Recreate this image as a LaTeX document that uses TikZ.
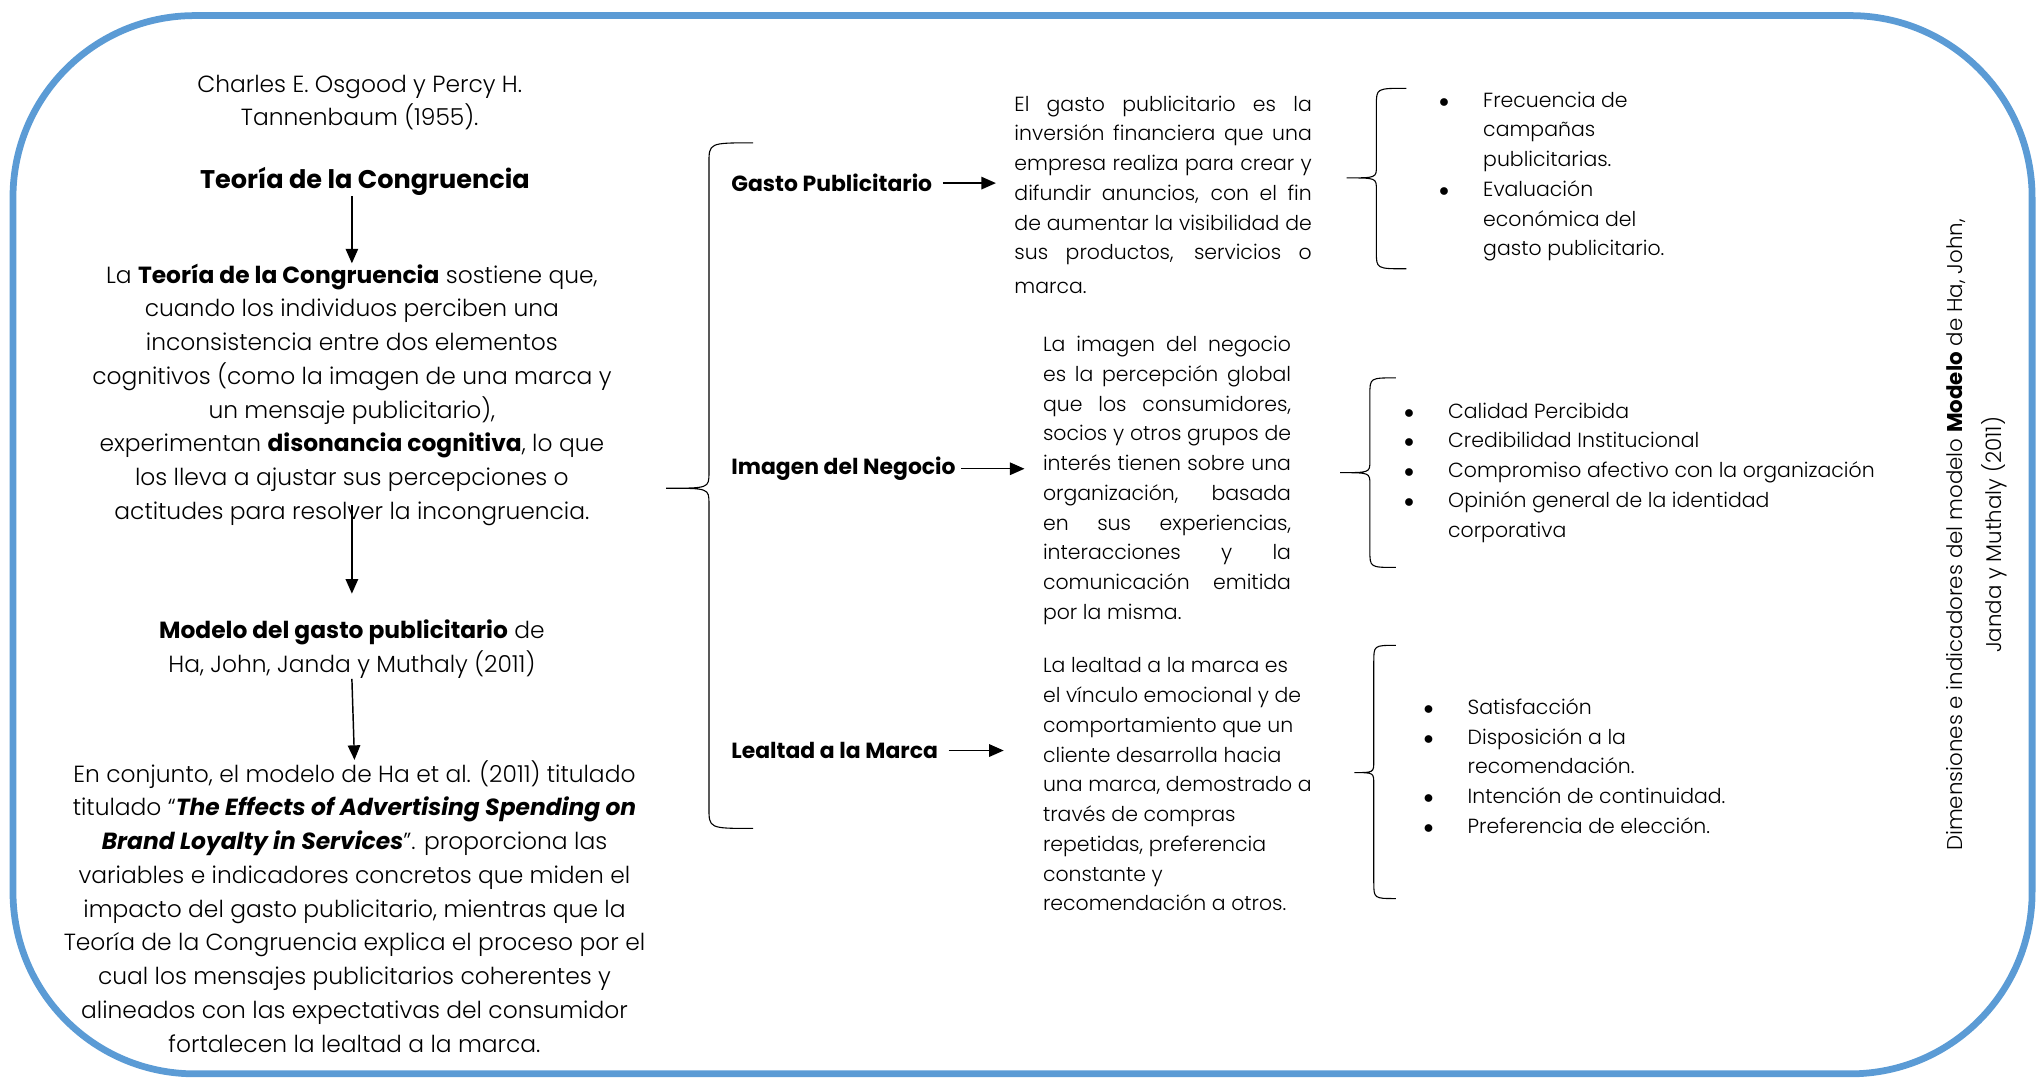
\documentclass[tikz,border=0pt]{standalone}
\usepackage{fontspec}
\IfFontExistsTF{Poppins Light}
  {\setmainfont{Poppins Light}[BoldFont={Poppins Bold},ItalicFont={Poppins Light Italic},BoldItalicFont={Poppins Bold Italic}]}
  {\setmainfont{Poppins}}
\usetikzlibrary{arrows.meta}
\definecolor{marco}{HTML}{5B9BD5}
\newlength{\ancho}
\newcommand{\jl}[1]{\makebox[\ancho][s]{#1}}
\newcommand{\vineta}{\makebox[8.5mm][l]{$\bullet$}}
\newcommand{\sangria}{\hspace*{8.5mm}}

\begin{document}
\begin{tikzpicture}[x=.25mm,y=-.25mm,
  cuerpo/.style={inner sep=0pt,align=center,font=\fontsize{12.8}{18.5}\selectfont},
  dim/.style={inner sep=0pt,anchor=west,font=\fontsize{12}{16}\selectfont\bfseries},
  desc/.style={inner sep=0pt,anchor=west,align=left,font=\fontsize{11.2}{16.3}\selectfont},
  flecha/.style={-{Triangle[length=2.8mm,width=2.4mm]},line width=.8pt},
  llave/.style={line width=.6pt}]
\useasboundingbox (0,0) rectangle (1568,830);
\draw[marco,line width=1.3mm,rounded corners=3.5cm] (10,12) rectangle (1565,827);

% columna izquierda
\node[cuerpo] (autores) at (277,79) {Charles E. Osgood y Percy H.\\Tannenbaum (1955).};
\node[cuerpo,font=\fontsize{14}{18.5}\selectfont\bfseries] (teoria) at (281,140) {Teoría de la Congruencia};
\node[cuerpo] (parrafo) at (271,304) {La \textbf{Teoría de la Congruencia} sostiene que,\\
cuando los individuos perciben una\\
inconsistencia entre dos elementos\\
cognitivos (como la imagen de una marca y\\
un mensaje publicitario),\\
experimentan \textbf{disonancia cognitiva}, lo que\\
los lleva a ajustar sus percepciones o\\
actitudes para resolver la incongruencia.};
\node[cuerpo] (modelo) at (271,500) {\textbf{Modelo del gasto publicitario} de\\Ha, John, Janda y Muthaly (2011)};
\node[cuerpo] (conjunto) at (273,698) {En conjunto, el modelo de Ha et al. (2011) titulado\\
titulado “\textbf{\textit{The Effects of Advertising Spending on}}\\
\textbf{\textit{Brand Loyalty in Services}}”. proporciona las\\
variables e indicadores concretos que miden el\\
impacto del gasto publicitario, mientras que la\\
Teoría de la Congruencia explica el proceso por el\\
cual los mensajes publicitarios coherentes y\\
alineados con las expectativas del consumidor\\
fortalecen la lealtad a la marca.};
\draw[flecha] (teoria.south -| parrafo) -- (parrafo.north);
\draw[flecha] ([yshift=4mm]parrafo.south) -- ([yshift=5mm]modelo.north);
\draw[flecha] (modelo.south) -- (conjunto.north);

% dimensiones
\draw[llave] (580,110) .. controls (546,110) .. (546,126) -- (546,364) .. controls (546,376) .. (513,376)
  .. controls (546,376) .. (546,388) -- (546,622) .. controls (546,638) .. (580,638);
\node[dim] (gasto) at (563,141) {Gasto Publicitario};
\node[dim] (imagen) at (563,361) {Imagen del Negocio};
\node[dim] (lealtad) at (563,578) {Lealtad a la Marca};

\setlength{\ancho}{57.25mm}
\node[desc] (dgasto) at (781,150) {\jl{El gasto publicitario es la}\\
\jl{inversión financiera que una}\\
\jl{empresa realiza para crear y}\\
\jl{difundir anuncios, con el fin}\\
\jl{de aumentar la visibilidad de}\\
\jl{sus productos, servicios o}\\[.8mm]
marca.};
\setlength{\ancho}{47.75mm}
\node[desc] (dimagen) at (803,370) {\jl{La imagen del negocio}\\
\jl{es la percepción global}\\
\jl{que los consumidores,}\\
\jl{socios y otros grupos de}\\
\jl{interés tienen sobre una}\\
\jl{organización, basada}\\
\jl{en sus experiencias,}\\
\jl{interacciones y la}\\
\jl{comunicación emitida}\\
por la misma.};
\node[desc] (dlealtad) at (803,604) {La lealtad a la marca es\\
el vínculo emocional y de\\
comportamiento que un\\
cliente desarrolla hacia\\
una marca, demostrado a\\
través de compras\\
repetidas, preferencia\\
constante y\\
recomendación a otros.};
\draw[flecha,shorten <=2mm,shorten >=3.5mm] (gasto) -- (gasto -| dgasto.west);
\draw[flecha,shorten <=1mm,shorten >=3.5mm] (imagen) -- (imagen -| dimagen.west);
\draw[flecha,shorten <=2mm,shorten >=7.5mm] (lealtad) -- (lealtad -| dlealtad.west);

% indicadores
\foreach \e/\v/\k/\t/\m/\b in {1083/1060/1037/68/137/207,1075/1055/1032/291/364/437,1075/1058/1043/497/595/692}
  \draw[llave] (\e,\t) .. controls (\v,\t) .. (\v,\t+13) -- (\v,\m-9) .. controls (\v,\m) .. (\k,\m)
    .. controls (\v,\m) .. (\v,\m+9) -- (\v,\b-13) .. controls (\v,\b) .. (\e,\b);
\node[desc] (igasto) at (1108,136) {\vineta Frecuencia de\\\sangria campañas\\\sangria publicitarias.\\
\vineta Evaluación\\\sangria económica del\\\sangria gasto publicitario.};
\node[desc] (iimagen) at (1081,364) {\vineta Calidad Percibida\\\vineta Credibilidad Institucional\\
\vineta Compromiso afectivo con la organización\\\vineta Opinión general de la identidad\\\sangria corporativa};
\node[desc] (ilealtad) at (1096,590) {\vineta Satisfacción\\\vineta Disposición a la\\\sangria recomendación.\\
\vineta Intención de continuidad.\\\vineta Preferencia de elección.};

\node[inner sep=0pt,align=center,rotate=90,font=\fontsize{11.7}{21.3}\selectfont] (nota) at (1522,412)
  {Dimensiones e indicadores del modelo \textbf{Modelo} de Ha, John,\\Janda y Muthaly (2011)};
\end{tikzpicture}
\end{document}
